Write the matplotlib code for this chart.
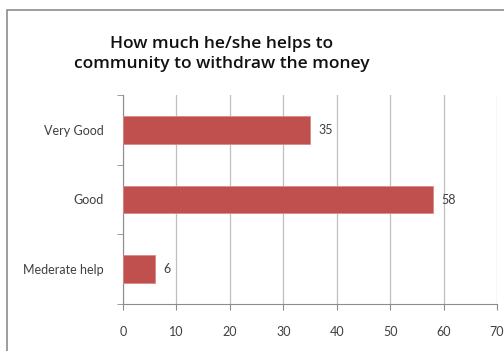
import matplotlib
matplotlib.use("Agg")
import matplotlib.pyplot as plt
from matplotlib.patches import Rectangle

categories = ["Very Good", "Good", "Mederate help"]
values = [35, 58, 6]
xticks = [0, 10, 20, 30, 40, 50, 60, 70]
title = "How much he/she helps to\ncommunity to withdraw the money"

plt.rcParams['font.family'] = ['Lato', 'DejaVu Sans']

fig = plt.figure(figsize=(5.04, 3.51), dpi=100)
fig.patches.append(Rectangle((7/504, -0.1), 1.2, 1 - 10/351 + 0.1, transform=fig.transFigure,
                             fill=False, edgecolor='#8c8c8c', linewidth=1.2))
ax = fig.add_axes([123/504, 1 - 304/351, (497 - 123)/504, (304 - 95)/351])

ypos = list(range(len(categories)))
bars = ax.barh(ypos, values, height=0.4, color='#C0504D', edgecolor='#d88a88', linewidth=0.6, zorder=3)
for y, v in zip(ypos, values):
    ax.text(v + 1.5, y, str(v), va='center', ha='left', fontsize=9, color='#404040')

ax.set_xlim(0, 70)
ax.set_ylim(2.5, -0.5)
ax.set_xticks(xticks)
ax.set_xticklabels([str(t) for t in xticks], fontsize=9, color='#404040')
ax.set_yticks(ypos)
ax.set_yticklabels(categories, fontsize=9, color='#404040')
ax.tick_params(axis='y', length=0, pad=14)
ax.tick_params(axis='x', length=4, color='#8c8c8c', pad=12)
ax.set_yticks([-0.5, 0.5, 1.5, 2.5], minor=True)
ax.tick_params(axis='y', which='minor', length=4, color='#8c8c8c')
ax.grid(axis='x', color='#bfbfbf', linewidth=0.9, zorder=0)
for s in ['top', 'right']:
    ax.spines[s].set_visible(False)
for s in ['left', 'bottom']:
    ax.spines[s].set_color('#8c8c8c')
    ax.spines[s].set_linewidth(0.8)

fig.text(222/504, 1 - 54/351, title, ha='center', va='center', fontsize=12.5,
         fontfamily=['Open Sans', 'DejaVu Sans'], fontweight='semibold', linespacing=1.35, color='#111111')

fig.savefig("out.png", dpi=100)
